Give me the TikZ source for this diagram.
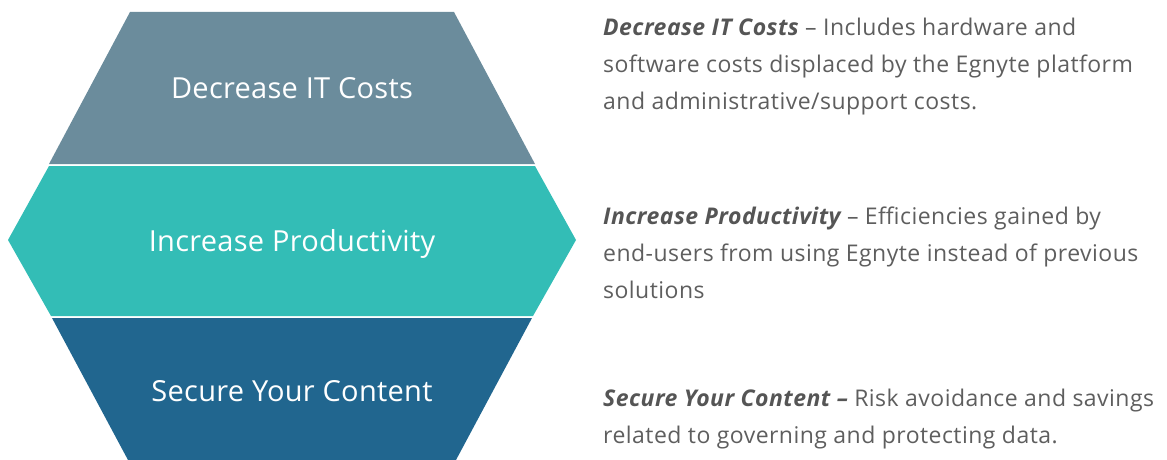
\documentclass[tikz,border=0pt]{standalone}
\usepackage{fontspec}
\setmainfont{Open Sans}
\newfontfamily\descfont[LetterSpace=2]{Open Sans}
\newfontfamily\bandfont[LetterSpace=1]{Open Sans}
\definecolor{bandtop}{HTML}{6B8C9C}
\definecolor{bandmid}{HTML}{33BDB6}
\definecolor{bandbot}{HTML}{21668F}
\definecolor{bodygray}{HTML}{5E5E5E}
\definecolor{headgray}{HTML}{555555}
\tikzset{
  bandlabel/.style={text=white, inner sep=0pt, anchor=base, font=\bandfont\fontsize{29}{34}\selectfont},
  descline/.style={text=bodygray, inner sep=0pt, anchor=base west, font=\descfont\fontsize{23}{37}\selectfont},
}
\newcommand{\leadtxt}[1]{{\color{headgray}\bfseries\itshape #1}}
\begin{document}
\begin{tikzpicture}[x=1pt,y=-1pt]
\useasboundingbox (0,0) rectangle (1167,460);
% bands
\fill[bandtop] (130,12) -- (454,12) -- (535,164) -- (49,164) -- cycle;
\fill[bandmid] (49,166) -- (535,166) -- (576,240) -- (533,316) -- (51,316) -- (8,240) -- cycle;
\fill[bandbot] (52,318) -- (532,318) -- (456,460) -- (128,460) -- cycle;
% band labels
\node[bandlabel] (l1) at (292,98) {Decrease IT Costs};
\node[bandlabel] (l2) at (292,251) {Increase Productivity};
\node[bandlabel] (l3) at (292,401) {Secure Your Content};
% descriptions
\node[descline] (d11) at (603,36) {\leadtxt{Decrease IT Costs} – Includes hardware and};
\node[descline] (d12) at (603,73) {software costs displaced by the Egnyte platform};
\node[descline] (d13) at (603,110) {and administrative/support costs.};
\node[descline] (d21) at (603,224) {\leadtxt{Increase Productivity} – Efficiencies gained by};
\node[descline] (d22) at (603,261) {end-users from using Egnyte instead of previous};
\node[descline] (d23) at (603,298) {solutions};
\node[descline] (d31) at (603,406) {\leadtxt{Secure Your Content –} Risk avoidance and savings};
\node[descline] (d32) at (603,443) {related to governing and protecting data.};
\end{tikzpicture}
\end{document}
